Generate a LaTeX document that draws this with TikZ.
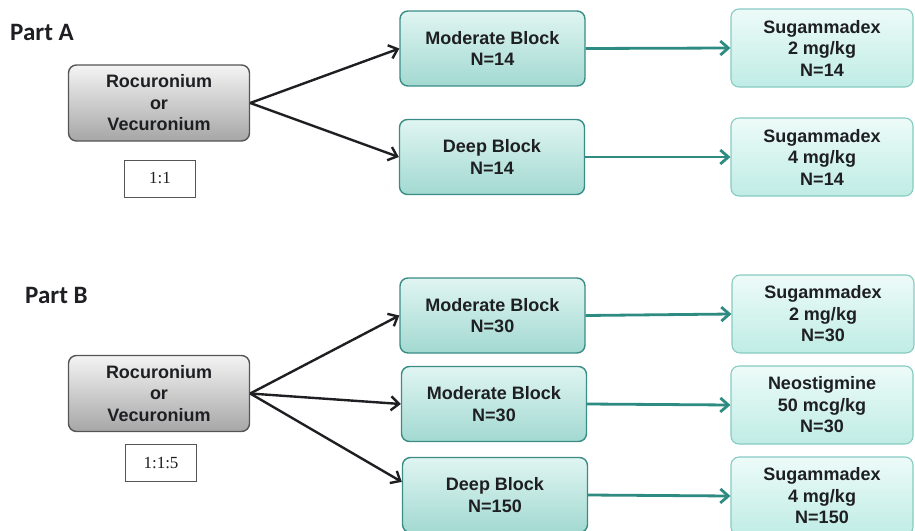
\documentclass[tikz,border=0pt]{standalone}
\usepackage{fontspec}
\setmainfont{Liberation Sans}
\newfontfamily\partfont{Carlito}
\newfontfamily\ratiofont{Liberation Serif}
\usetikzlibrary{arrows.meta, positioning, calc}
\definecolor{ink}{HTML}{1E1F22}
\definecolor{greyedge}{HTML}{555555}
\definecolor{greytop}{HTML}{F4F4F4}
\definecolor{greybot}{HTML}{A6A6A6}
\definecolor{tealedge}{HTML}{3A8C85}
\definecolor{tealtop}{HTML}{E0F5F2}
\definecolor{tealbot}{HTML}{A2D9D1}
\definecolor{mintedge}{HTML}{86CBC1}
\definecolor{minttop}{HTML}{EDFBF8}
\definecolor{mintbot}{HTML}{BFECE5}
\definecolor{flowteal}{HTML}{2E8B81}
\tikzset{
  font=\bfseries\fontsize{18}{21.5}\selectfont,
  %
  box/.style={
    rounded corners=8pt, line width=1.4pt, align=center, text=ink, inner sep=2pt,
  },
  drug/.style={box, draw=greyedge, top color=greytop, bottom color=greybot,
               minimum width=181pt, minimum height=76pt},
  block/.style={box, draw=tealedge, top color=tealtop, bottom color=tealbot,
                minimum width=185pt, minimum height=75pt},
  rev/.style={box, draw=mintedge, top color=minttop, bottom color=mintbot,
              minimum width=182pt, minimum height=78pt, line width=1.1pt},
  %
  ratio/.style={draw=greyedge, line width=0.7pt, fill=white, text=ink,
                minimum width=71pt, minimum height=37pt,
                font=\ratiofont\fontsize{17}{19}\selectfont},
  part/.style={font=\partfont\bfseries\fontsize{25}{28}\selectfont, text=ink,
               anchor=base west, inner sep=0pt},
  %
  split/.style={draw=ink, line width=2.4pt, -{Straight Barb[length=8pt, width=14pt]}},
  treat/.style={draw=flowteal, line width=2.8pt, -{Straight Barb[length=8pt, width=14pt]}},
}

\begin{document}
\begin{tikzpicture}[x=1pt, y=-1pt]
  \useasboundingbox (0,0) rectangle (915,530);

  % ---- part A -----------------------------------------------------------
  \node[part] (partA) at (10,40) {Part A};
  \node[drug] (srcA) at (159,103) {Rocuronium\\or\\Vecuronium};
  \node[ratio] (ratioA) at (160,178.5) {1:1};

  \node[block] (modA)  at (492.5,48.5) {Moderate Block\\N=14};
  \node[block] (deepA) at (492,157) {Deep Block\\N=14};

  \node[rev] (sugA1) at (822,48)  {Sugammadex\\2 mg/kg\\N=14};
  \node[rev] (sugA2) at (822,157) {Sugammadex\\4 mg/kg\\N=14};

  \draw[split] (srcA.east) -- (modA.west);
  \draw[split] (srcA.east) -- (deepA.west);

  % ---- part B -----------------------------------------------------------
  \node[part] (partB) at (25,303) {Part B};
  \node[drug] (srcB) at (159,393.5) {Rocuronium\\or\\Vecuronium};
  \node[ratio] (ratioB) at (161,463) {1:1:5};

  \node[block] (modB1) at (492.5,315.5) {Moderate Block\\N=30};
  \node[block] (modB2) at (494,404) {Moderate Block\\N=30};
  \node[block] (deepB) at (495,495) {Deep Block\\N=150};

  \node[rev] (sugB1) at (823,314) {Sugammadex\\2 mg/kg\\N=30};
  \node[rev] (neoB)  at (822,405) {Neostigmine\\50 mcg/kg\\N=30};
  \node[rev] (sugB3) at (822,496) {Sugammadex\\4 mg/kg\\N=150};

  \draw[split] (srcB.east) -- (modB1.west);
  \draw[split] (srcB.east) -- (modB2.west);
  \draw[split] (srcB.east) -- (deepB.172);

  % ---- reversal arrows --------------------------------------------------
  \foreach \b/\r in {modA/sugA1, deepA/sugA2, modB1/sugB1, modB2/neoB, deepB/sugB3}
    \draw[treat] (\b.east) -- (\r.west);

\end{tikzpicture}
\end{document}
